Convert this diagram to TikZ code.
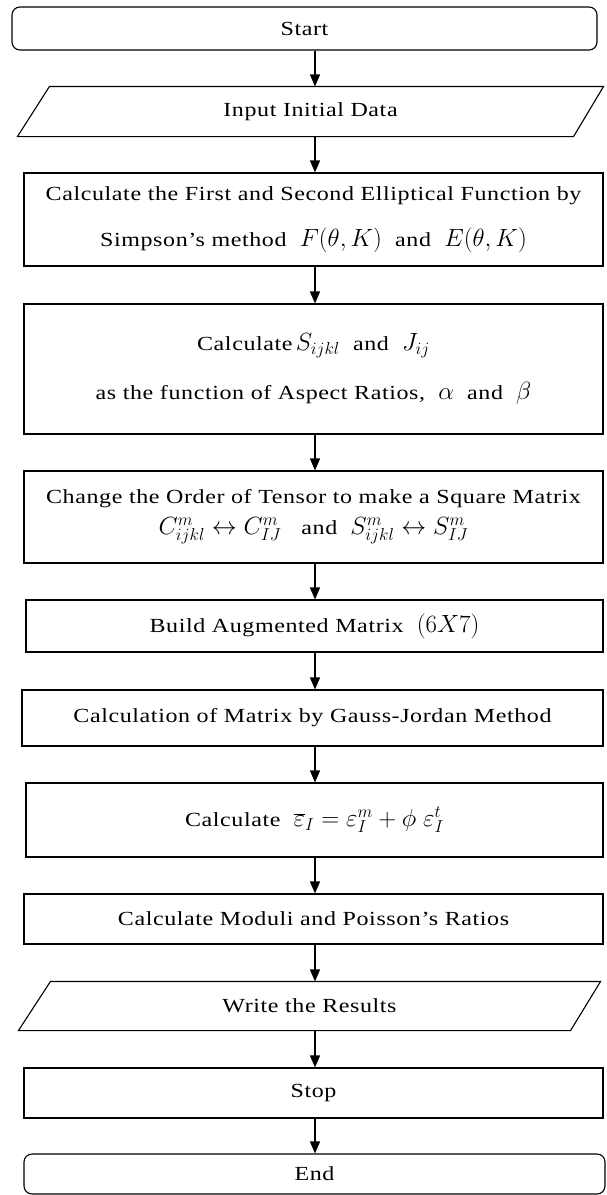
\documentclass[tikz,border=0pt]{standalone}
\usepackage{fontspec}
\setmainfont{Liberation Serif}[FakeStretch=1.2, LetterSpace=3]
\usetikzlibrary{arrows.meta,positioning,calc}
\newcommand{\flowfont}{\fontsize{20}{23}\selectfont}
\newcommand{\mth}[1]{{\fontsize{23}{23}\selectfont$#1$}}
\tikzset{
  box/.style={draw=black, line width=1.1pt, align=center, font=\flowfont, inner sep=0pt, minimum width=579pt},
  roundbox/.style={box, rounded corners=8pt},
  iotext/.style={box, draw=none},
  arrow/.style={-{Triangle[length=12pt,width=10pt]}, line width=1.4pt, draw=black}
}
\begin{document}
\begin{tikzpicture}[x=1pt, y=-1pt]
  \useasboundingbox (0,0) rectangle (607,1195);
  \coordinate (axis) at (315,0);
  \node[roundbox, minimum width=585pt, minimum height=43pt] (start) at (304.5,28.5) {Start};
  \node[iotext, minimum width=585pt, minimum height=49pt] (input) at (310.5,111.5) {Input Initial Data};
  \node[box, minimum height=93pt] (simpson) at (313.5,219.5)
    {Calculate the First and Second Elliptical Function by\\[23pt]
     Simpson's method\ \ \mth{F\bigl(\theta,K\bigr)}\ \ and\ \ \mth{E\bigl(\theta,K\bigr)}};
  \node[box, minimum height=130pt] (eshelby) at (313.5,369)
    {Calculate\,\mth{S_{ijkl}}\ \ and\ \ \mth{J_{ij}}\\[24pt]
     as the function of Aspect Ratios,\ \ \mth{\alpha}\ \ and\ \ \mth{\beta}};
  \node[box, minimum height=92pt] (tensor) at (313.5,517)
    {Change the Order of Tensor to make a Square Matrix\\[8pt]
     \mth{C^m_{ijkl}\leftrightarrow C^m_{IJ}}\quad and\ \ \mth{S^m_{ijkl}\leftrightarrow S^m_{IJ}}};
  \node[box, minimum width=577pt, minimum height=52pt] (build) at (314.5,626)
    {Build Augmented Matrix\ \ \mth{\bigl(6X7\bigr)}};
  \node[box, minimum width=581pt, minimum height=56pt] (gauss) at (312.5,718)
    {Calculation of Matrix by Gauss-Jordan Method};
  \node[box, minimum width=577pt, minimum height=74pt] (strain) at (314.5,820)
    {Calculate\ \ \mth{\overline{\varepsilon}_{I}=\varepsilon^m_I+\phi\;\varepsilon^t_I}};
  \node[box, minimum height=50pt] (moduli) at (313.5,919)
    {Calculate Moduli and Poisson's Ratios};
  \node[iotext, minimum width=581pt, minimum height=48pt] (write) at (309.5,1006) {Write the Results};
  \node[box, minimum height=50pt] (stop) at (313.5,1093) {Stop};
  \node[roundbox, minimum width=581pt, minimum height=40pt] (finish) at (314.5,1174) {End};
  % slanted input/output outlines
  \foreach \n in {input, write}
    \draw[line width=1.1pt, line join=miter]
      (\n.south west) -- ($(\n.north west)+(32,0)$) -- (\n.north east)
      -- ($(\n.south east)+(-30,0)$) -- cycle;
  \foreach \a/\b in {start/input, input/simpson, simpson/eshelby, eshelby/tensor, tensor/build,
                     build/gauss, gauss/strain, strain/moduli, moduli/write, write/stop, stop/finish}
    \draw[arrow] (axis |- \a.south) -- (axis |- \b.north);
\end{tikzpicture}
\end{document}
